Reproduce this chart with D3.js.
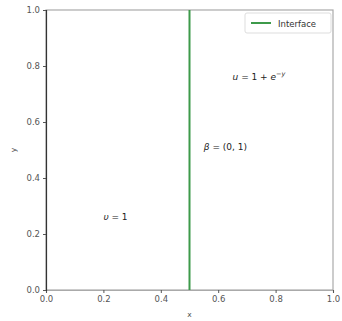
<!DOCTYPE html>
<html><head><meta charset="utf-8">
<script src="https://cdn.jsdelivr.net/npm/d3@7"></script>
<style>body{margin:0;background:#fff}svg{display:block}text{font-family:"DejaVu Sans",sans-serif}</style>
</head><body>
<script>
const xTicks = [0.0, 0.2, 0.4, 0.6, 0.8, 1.0];
const yTicks = [0.0, 0.2, 0.4, 0.6, 0.8, 1.0];
const interfaceX = [0.5, 0.5];
const interfaceY = [0, 1];
const annotations = [
  {x: 0.2, y: 0.25, parts: [["υ", "italic"], [" = 1", "normal"]]},
  {x: 0.65, y: 0.75, parts: [["u", "italic"], [" = 1 + ", "normal"], ["e", "italic"], ["−y", "sup"]]},
  {x: 0.55, y: 0.5, parts: [["β", "italic"], [" = (0, 1)", "normal"]]}
];
const legendLabel = "Interface";

const W = 342, H = 321;
const m = {left: 46, right: 9, top: 10, bottom: 31};
const svg = d3.select("body").append("svg").attr("width", W).attr("height", H);
const x = d3.scaleLinear().domain([0, 1]).range([m.left, W - m.right]);
const y = d3.scaleLinear().domain([0, 1]).range([H - m.bottom, m.top]);

const grey = "#555";
// spines
svg.append("rect").attr("x", x(0)).attr("y", y(1)).attr("width", x(1) - x(0)).attr("height", y(0) - y(1))
  .attr("fill", "none").attr("stroke", "#aaa").attr("stroke-width", 1.2);

const xa = svg.append("g").attr("transform", `translate(0,${y(0)})`)
  .call(d3.axisBottom(x).tickValues(xTicks).tickFormat(d3.format(".1f")).tickSize(3).tickPadding(3));
const ya = svg.append("g").attr("transform", `translate(${x(0)},0)`)
  .call(d3.axisLeft(y).tickValues(yTicks).tickFormat(d3.format(".1f")).tickSize(3).tickPadding(3));
xa.select(".domain").attr("stroke", "#aaa").attr("stroke-width", 1.2);
ya.select(".domain").attr("stroke", "#333").attr("stroke-width", 1.2);
[xa, ya].forEach(a => {
  a.selectAll(".tick line").attr("stroke", grey);
  a.selectAll(".tick text").attr("fill", grey).attr("font-size", 8.5).attr("font-family", "DejaVu Sans");
});

svg.append("text").attr("x", x(0.5)).attr("y", H - 4).attr("text-anchor", "middle")
  .attr("font-size", 7.5).attr("fill", grey).text("x");
svg.append("text").attr("transform", `translate(16,${y(0.5)}) rotate(-90)`).attr("text-anchor", "middle")
  .attr("font-size", 7.5).attr("fill", grey).text("y");

// interface line
const line = d3.line().x(d => x(d[0])).y(d => y(d[1]));
svg.append("path").datum(interfaceX.map((v, i) => [v, interfaceY[i]])).attr("d", line)
  .attr("stroke", "#3d9a4a").attr("stroke-width", 2).attr("fill", "none");

// annotations
annotations.forEach(a => {
  const t = svg.append("text").attr("x", x(a.x)).attr("y", y(a.y)).attr("font-size", 9).attr("fill", "#222");
  a.parts.forEach(p => {
    const ts = t.append("tspan").text(p[0]);
    if (p[1] === "italic") ts.attr("font-style", "italic");
    if (p[1] === "sup") ts.attr("font-size", 6.5).attr("font-style", "italic").attr("dy", -4);
  });
});

// legend
const lg = svg.append("g");
lg.append("rect").attr("x", 245).attr("y", 13).attr("width", 86).attr("height", 20).attr("rx", 2)
  .attr("fill", "#fff").attr("stroke", "#ddd");
lg.append("line").attr("x1", 251).attr("x2", 271).attr("y1", 23).attr("y2", 23)
  .attr("stroke", "#3d9a4a").attr("stroke-width", 2);
lg.append("text").attr("x", 278).attr("y", 26.5).attr("font-size", 8.5).attr("fill", "#333").text(legendLabel);
</script>
</body></html>
